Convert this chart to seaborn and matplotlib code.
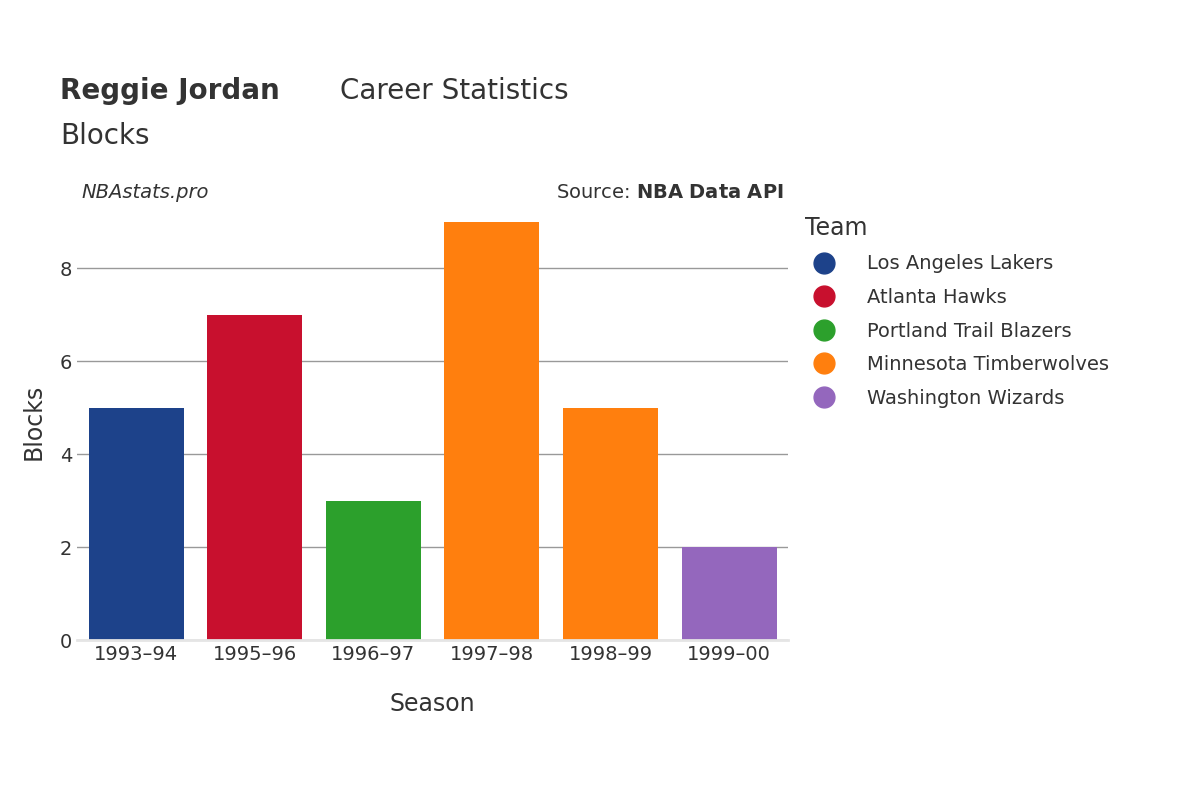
import matplotlib
matplotlib.use("Agg")
import matplotlib.pyplot as plt
import seaborn as sns
import pandas as pd
from matplotlib.lines import Line2D

seasons = ["1993–94", "1995–96", "1996–97", "1997–98", "1998–99", "1999–00"]
blocks = [5, 7, 3, 9, 5, 2]
teams = ["Los Angeles Lakers", "Atlanta Hawks", "Portland Trail Blazers",
         "Minnesota Timberwolves", "Minnesota Timberwolves", "Washington Wizards"]
team_order = ["Los Angeles Lakers", "Atlanta Hawks", "Portland Trail Blazers",
              "Minnesota Timberwolves", "Washington Wizards"]
team_colors = ["#1d428a", "#c8102e", "#2ca02c", "#ff7f0e", "#9467bd"]

df = pd.DataFrame({"Season": seasons, "Blocks": blocks, "Team": teams})
palette = dict(zip(team_order, team_colors))

fig = plt.figure(figsize=(12, 8), dpi=100)
ax = fig.add_axes([0.064, 0.2, 0.593, 0.546])
sns.barplot(data=df, x="Season", y="Blocks", hue="Team", hue_order=team_order,
            palette=palette, dodge=False, width=0.8, saturation=1, ax=ax, legend=False)
ax.set_ylim(0, 9.4)
ax.set_xlim(-0.5, 5.5)
ax.set_yticks([0, 2, 4, 6, 8])
ax.grid(axis="y", color="#999999", linewidth=1)
ax.set_axisbelow(True)
for s in ["top", "right", "left"]:
    ax.spines[s].set_visible(False)
ax.spines["bottom"].set_color("#e5e5e5")
ax.spines["bottom"].set_linewidth(2)
ax.tick_params(axis="both", length=0, labelsize=14, colors="#333333")
ax.set_xlabel("Season", fontsize=17, color="#333333", labelpad=20)
ax.set_ylabel("Blocks", fontsize=17, color="#333333", labelpad=10)

fig.text(0.05, 0.876, "Reggie Jordan", fontsize=20, fontweight="bold", color="#333333")
fig.text(0.283, 0.876, "Career Statistics", fontsize=20, color="#333333")
fig.text(0.05, 0.82, "Blocks", fontsize=20, color="#333333")
fig.text(0.068, 0.752, "NBAstats.pro", fontsize=14, style="italic", color="#333333")
fig.text(0.653, 0.752, "Source: $\\bf{NBA\\ Data\\ API}$", fontsize=14, color="#333333", ha="right")

handles = [Line2D([0], [0], marker="o", linestyle="", markersize=15,
                  markerfacecolor=c, markeredgecolor=c) for c in team_colors]
leg = fig.legend(handles, team_order, loc="upper left", bbox_to_anchor=(0.664, 0.74),
                 frameon=False, fontsize=14, title="Team", title_fontsize=17,
                 labelspacing=0.75, handletextpad=1.2, borderaxespad=0)
leg._legend_box.align = "left"
for t in leg.get_texts():
    t.set_color("#333333")
leg.get_title().set_color("#333333")

fig.savefig("out.png", dpi=100)
